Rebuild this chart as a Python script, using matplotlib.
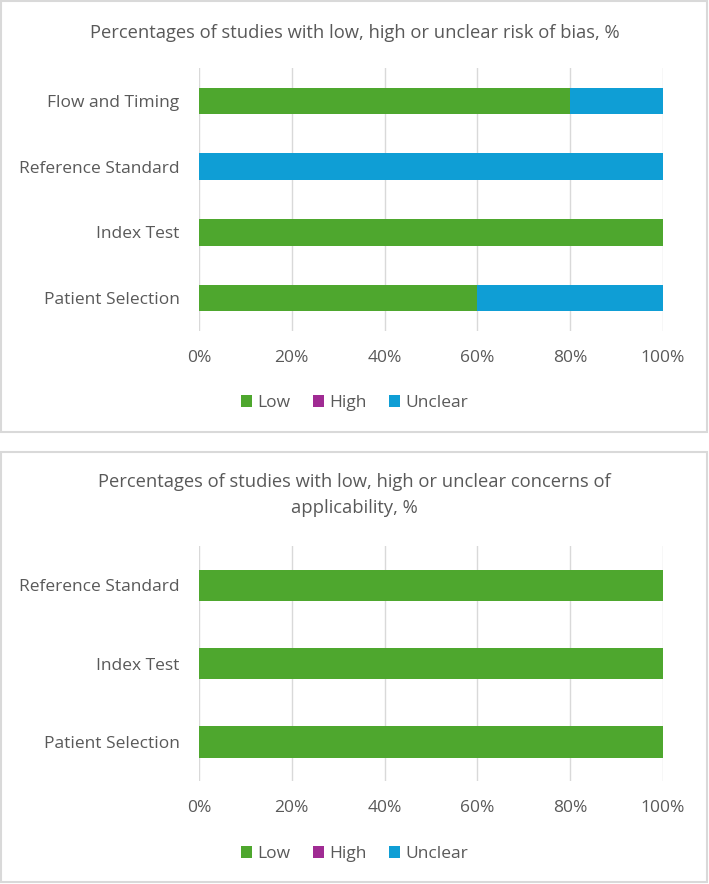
import matplotlib
matplotlib.use("Agg")
import matplotlib.pyplot as plt
from matplotlib.patches import Rectangle, Patch
from matplotlib.ticker import FuncFormatter

plt.rcParams['font.family'] = ['Open Sans', 'DejaVu Sans']

# Data
series_names = ["Low", "High", "Unclear"]
colors = ["#4EA72E", "#A02B93", "#0F9ED5"]

bias_categories = ["Patient Selection", "Index Test", "Reference Standard", "Flow and Timing"]
bias_low = [60, 100, 0, 80]
bias_high = [0, 0, 0, 0]
bias_unclear = [40, 0, 100, 20]

app_categories = ["Patient Selection", "Index Test", "Reference Standard"]
app_low = [100, 100, 100]
app_high = [0, 0, 0]
app_unclear = [0, 0, 0]

xticks = [0, 20, 40, 60, 80, 100]

W, H = 709, 884
fig = plt.figure(figsize=(W / 100, H / 100), dpi=100)
TXT = "#595959"
GRID = "#D9D9D9"
FS = 12.5


def px_axes(left, top, right, bottom):
    return fig.add_axes([left / W, 1 - bottom / H, (right - left) / W, (bottom - top) / H])


def draw_panel(ax, cats, low, high, unclear, title_y, title, legend_y):
    y = range(len(cats))
    left = [0] * len(cats)
    for vals, c, name in zip([low, high, unclear], colors, series_names):
        ax.barh(list(y), vals, left=left, height=0.4, color=c, label=name, zorder=3)
        left = [a + b for a, b in zip(left, vals)]
    ax.set_xlim(0, 100)
    ax.set_ylim(-0.5, len(cats) - 0.5)
    ax.set_yticks(list(y))
    ax.set_yticklabels(cats, fontsize=FS, color=TXT)
    ax.set_xticks(xticks)
    ax.xaxis.set_major_formatter(FuncFormatter(lambda v, p: f"{int(v)}%"))
    ax.tick_params(axis='both', length=0, labelsize=FS, labelcolor=TXT)
    ax.tick_params(axis='y', pad=14)
    ax.tick_params(axis='x', pad=14)
    ax.grid(axis='x', color=GRID, linewidth=1, zorder=0)
    for s in ax.spines.values():
        s.set_visible(False)
    fig.text(0.5, 1 - title_y / H, title, ha='center', va='center',
             fontsize=13.2, color=TXT, linespacing=1.55)
    handles = [Patch(facecolor=c, label=n) for c, n in zip(colors, series_names)]
    fig.legend(handles=handles, loc='center', bbox_to_anchor=(0.5, 1 - legend_y / H),
               ncol=3, frameon=False, fontsize=FS, labelcolor=TXT,
               handlelength=0.65, handleheight=0.65, handletextpad=0.3,
               columnspacing=1.3)


# Panel borders
fig.patches.append(Rectangle((1 / W, 1 - 432 / H), 706 / W, 431 / H, transform=fig.transFigure,
                             fill=False, edgecolor=GRID, linewidth=1.5))
fig.patches.append(Rectangle((1 / W, 1 - 882 / H), 706 / W, 430 / H, transform=fig.transFigure,
                             fill=False, edgecolor=GRID, linewidth=1.5))

ax1 = px_axes(199, 68, 663, 331)
draw_panel(ax1, bias_categories, bias_low, bias_high, bias_unclear, 33,
           "Percentages of studies with low, high or unclear risk of bias, %", 403)

ax2 = px_axes(199, 546, 663, 781)
draw_panel(ax2, app_categories, app_low, app_high, app_unclear, 495,
           "Percentages of studies with low, high or unclear concerns of\napplicability, %", 854)

fig.savefig("out.png", dpi=100)
